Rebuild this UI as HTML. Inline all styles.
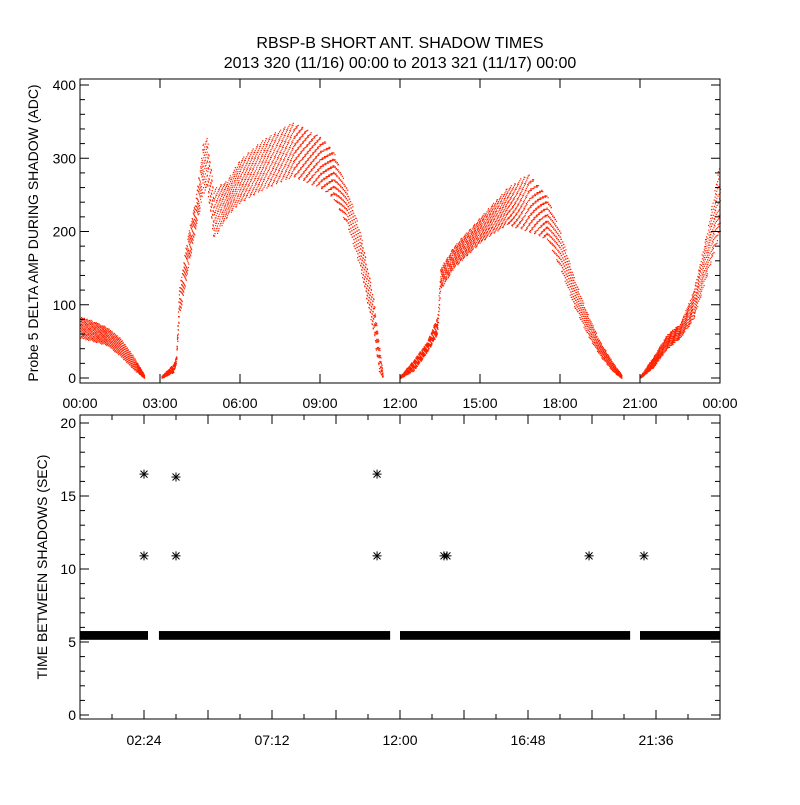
<!DOCTYPE html>
<html><head><meta charset="utf-8"><style>
body{margin:0;background:#fff}
svg text{font-family:"Liberation Sans",sans-serif;fill:#000}
</style></head><body>
<svg width="800" height="800" xmlns="http://www.w3.org/2000/svg">
<rect width="800" height="800" fill="#fff"/>
<text x="400" y="48" font-size="16" text-anchor="middle">RBSP-B SHORT ANT. SHADOW TIMES</text>
<text x="400" y="68" font-size="16" text-anchor="middle">2013 320 (11/16) 00:00 to 2013 321 (11/17) 00:00</text>
<g id="topPanel"></g>
<g id="botPanel"></g>
</svg>
<script>
// Top panel: amplitude band envelopes per shadow segment (hour, low, high)
const seg1Hours=[0,0.5,1,1.5,2,2.4];
const seg1Low=[55,50,45,30,12,0];
const seg1High=[85,78,70,55,30,5];
const seg2Hours=[3.05,3.5,3.6,3.7,4.0,4.3,4.6,4.75,5.0,5.5,6,7,8,9,9.5,10,10.5,11,11.2,11.35];
const seg2Low=[0,8,20,80,140,200,250,260,190,220,240,260,275,260,245,210,150,60,10,0];
const seg2High=[3,20,30,120,190,240,320,330,260,270,300,330,350,330,310,260,200,110,50,5];
const seg3Hours=[12.0,12.5,13,13.4,13.5,14,15,16,16.8,17.5,18,18.5,19,19.5,20,20.3];
const seg3Low=[0,10,35,60,120,150,185,210,200,190,150,100,60,30,8,0];
const seg3High=[3,25,50,85,150,180,220,260,280,250,200,140,90,50,20,5];
const seg4Hours=[21.0,21.5,22,22.5,23,23.5,24];
const seg4Low=[0,15,40,55,80,140,200];
const seg4High=[3,30,60,75,120,200,300];
const topXTicks=["00:00","03:00","06:00","09:00","12:00","15:00","18:00","21:00","00:00"];
const topYTicks=[0,100,200,300,400];
// Bottom panel
const bandStart=[0,2.96,12.0,21.0];
const bandEnd=[2.55,11.63,20.63,24];
const bandLow=[5.15,5.15,5.15,5.15];
const bandHigh=[5.75,5.75,5.75,5.75];
const outlierHours=[2.4,2.4,3.6,3.6,11.14,11.14,13.65,13.76,19.09,21.15];
const outlierValues=[16.5,10.9,16.3,10.9,16.5,10.9,10.9,10.9,10.9,10.9];
const botXTickHours=[2.4,7.2,12,16.8,21.6];
const botXTicks=["02:24","07:12","12:00","16:48","21:36"];
const botYTicks=[0,5,10,15,20];

const NS="http://www.w3.org/2000/svg";
function mk(p,t,a){const e=document.createElementNS(NS,t);for(const k in a)e.setAttribute(k,a[k]);p.appendChild(e);return e;}
const X0=80,X1=720;
const xs=h=>X0+(h/24)*(X1-X0);
const yTop=v=>378-(v/400)*(378-85);
const yBot=v=>715-(v/20)*(715-423);

const topG=document.getElementById('topPanel');
const botG=document.getElementById('botPanel');
function interp(hs,vs,h){for(let i=0;i<hs.length-1;i++){if(h>=hs[i]&&h<=hs[i+1]){const t=(h-hs[i])/(hs[i+1]-hs[i]);return vs[i]+t*(vs[i+1]-vs[i]);}}return null;}
const segs=[[seg1Hours,seg1Low,seg1High],[seg2Hours,seg2Low,seg2High],[seg3Hours,seg3Low,seg3High],[seg4Hours,seg4Low,seg4High]];
let d="";
let k=1;
const a1=0.7548776662, a2=0.5698402910;
segs.forEach(([hs,lo,hi])=>{
  const h0=hs[0],h1=hs[hs.length-1];
  const n=Math.round((h1-h0)*300);
  for(let i=0;i<n;i++){
    const u1=(0.5+a1*k)%1, u2=(0.5+a2*k)%1; k++;
    const h=h0+(h1-h0)*u1;
    const l=interp(hs,lo,h),u=interp(hs,hi,h);
    if(l===null)continue;
    const v=l+(u-l)*u2;
    const px=xs(h),py=yTop(v);
    d+="M"+px.toFixed(1)+" "+py.toFixed(1)+"h1.2v1.2h-1.2z";
  }
});
const dots=mk(topG,'path',{d:d,fill:'#ff2000'});



const tf=mk(topG,'rect',{x:80,y:79,width:640,height:304,fill:'none',stroke:'#000','stroke-width':1});


topXTicks.forEach((t,i)=>{
  const x=xs(i*3);
  mk(topG,'line',{x1:x,x2:x,y1:383,y2:374,stroke:'#000'});
  mk(topG,'line',{x1:x,x2:x,y1:79,y2:88,stroke:'#000'});
  const tx=mk(topG,'text',{x:x,y:408,'font-size':14,'text-anchor':'middle'});tx.textContent=t;
  
  
});
for(let v=0;v<=400;v+=20){const y=yTop(v);const L=(v%100===0)?9:5;
  mk(topG,'line',{x1:80,x2:80+L,y1:y,y2:y,stroke:'#000'});
  mk(topG,'line',{x1:720,x2:720-L,y1:y,y2:y,stroke:'#000'});}
topYTicks.forEach(v=>{const tx=mk(topG,'text',{x:76,y:yTop(v)+5,'font-size':14,'text-anchor':'end'});tx.textContent=v;
  
  });
const tyl=mk(topG,'text',{x:0,y:0,'font-size':14,'text-anchor':'middle',transform:'translate(38,233) rotate(-90)'});
tyl.textContent='Probe 5 DELTA AMP DURING SHADOW (ADC)';



bandStart.forEach((s,i)=>{
  const r=mk(botG,'rect',{x:xs(s),y:yBot(bandHigh[i]),width:xs(bandEnd[i])-xs(s),height:yBot(bandLow[i])-yBot(bandHigh[i]),fill:'#000'});
  
  
});
outlierHours.forEach((h,i)=>{
  const g=mk(botG,'g',{transform:'translate('+xs(h)+','+yBot(outlierValues[i])+')',stroke:'#000','stroke-width':1});
  
  
  mk(g,'line',{x1:-4.5,x2:4.5,y1:0,y2:0});mk(g,'line',{x1:0,x2:0,y1:-4.5,y2:4.5});
  mk(g,'line',{x1:-3.5,x2:3.5,y1:-3.5,y2:3.5});mk(g,'line',{x1:-3.5,x2:3.5,y1:3.5,y2:-3.5});
});
const bf=mk(botG,'rect',{x:80,y:415,width:640,height:304,fill:'none',stroke:'#000'});


for(let h=1.2;h<24;h+=1.2){const x=xs(h);const major=Math.abs((h/2.4)-Math.round(h/2.4))<0.01;const L=major?9:5;
  mk(botG,'line',{x1:x,x2:x,y1:719,y2:719-L,stroke:'#000'});
  mk(botG,'line',{x1:x,x2:x,y1:415,y2:415+L,stroke:'#000'});}
botXTickHours.forEach((h,i)=>{const tx=mk(botG,'text',{x:xs(h),y:745,'font-size':14,'text-anchor':'middle'});tx.textContent=botXTicks[i];
  
  });
for(let v=0;v<=20;v+=1){const y=yBot(v);const L=(v%5===0)?9:5;
  mk(botG,'line',{x1:80,x2:80+L,y1:y,y2:y,stroke:'#000'});
  mk(botG,'line',{x1:720,x2:720-L,y1:y,y2:y,stroke:'#000'});}
botYTicks.forEach(v=>{const tx=mk(botG,'text',{x:76,y:yBot(v)+5,'font-size':14,'text-anchor':'end'});tx.textContent=v;
  
  });
const byl=mk(botG,'text',{x:0,y:0,'font-size':14,'text-anchor':'middle',transform:'translate(47,567) rotate(-90)'});
byl.textContent='TIME BETWEEN SHADOWS (SEC)';


</script>
</body></html>
